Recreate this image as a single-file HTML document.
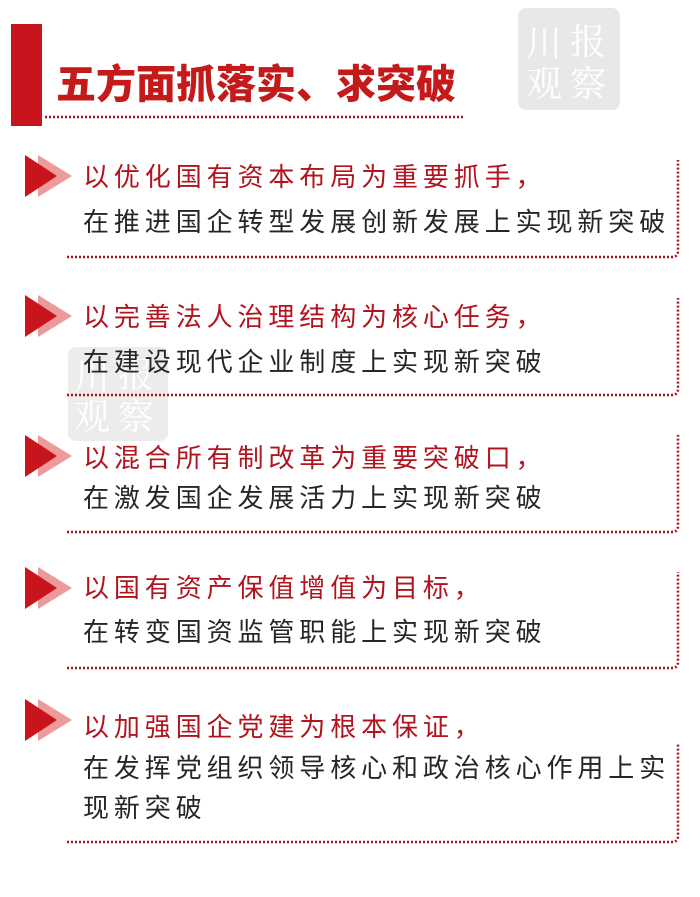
<!DOCTYPE html>
<html><head><meta charset="utf-8"><style>
html,body{margin:0;padding:0;background:#fff;}
body{width:700px;height:897px;position:relative;overflow:hidden;font-family:"Liberation Sans","Noto Sans CJK SC",sans-serif;}
.t{position:absolute;white-space:nowrap;font-size:26px;letter-spacing:4.9px;line-height:30px;}
.r{color:#b0141e;}
.k{color:#262626;}
.wm{position:absolute;background:#e8e8e8;border-radius:8px;}
.wm span{position:absolute;color:#fff;font-family:"Noto Serif CJK SC",serif;font-size:36px;line-height:36px;}
</style></head><body>
<div class="wm" style="left:518px;top:8px;width:102px;height:102px;">
<span style="left:8px;top:16px;">川</span><span style="left:52px;top:14px;">报</span>
<span style="left:8px;top:56px;">观</span><span style="left:52px;top:56px;">察</span></div>
<div class="wm" style="left:68px;top:347px;width:100px;height:94px;opacity:.8">
<span style="left:6px;top:10px;">川</span><span style="left:50px;top:8px;">报</span>
<span style="left:6px;top:50px;">观</span><span style="left:50px;top:50px;">察</span></div>

<div style="position:absolute;left:11px;top:24px;width:31px;height:102px;background:#c8141c"></div>
<div style="position:absolute;left:56px;top:59px;font-size:40px;line-height:44px;font-weight:900;color:#c41a1a;letter-spacing:0px;font-family:'Noto Sans CJK SC',sans-serif;white-space:nowrap">五方面抓落实、求突破</div>

<svg width="700" height="897" style="position:absolute;left:0;top:0" xmlns="http://www.w3.org/2000/svg">
<g stroke="#a8121e" stroke-width="2.5" stroke-dasharray="2 2" fill="none">
<line x1="45" y1="117" x2="463" y2="117"/>
<path d="M67 257 H672 Q678 257 678 251 V160"/>
<path d="M67 395 H672 Q678 395 678 389 V298"/>
<path d="M67 532 H672 Q678 532 678 526 V435"/>
<path d="M67 668 H672 Q678 668 678 662 V572"/>
<path d="M67 842 H672 Q678 842 678 836 V743"/>
</g>
<g>
<g transform="translate(0,155)"><polygon points="38,0 72,21 38,42" fill="#ec9a9a"/><polygon points="25,0 57,21 25,42" fill="#c8141c"/></g>
<g transform="translate(0,295)"><polygon points="38,0 72,21 38,42" fill="#ec9a9a"/><polygon points="25,0 57,21 25,42" fill="#c8141c"/></g>
<g transform="translate(0,435)"><polygon points="38,0 72,21 38,42" fill="#ec9a9a"/><polygon points="25,0 57,21 25,42" fill="#c8141c"/></g>
<g transform="translate(0,567)"><polygon points="38,0 72,21 38,42" fill="#ec9a9a"/><polygon points="25,0 57,21 25,42" fill="#c8141c"/></g>
<g transform="translate(0,699)"><polygon points="38,0 72,21 38,42" fill="#ec9a9a"/><polygon points="25,0 57,21 25,42" fill="#c8141c"/></g>
</g>
</svg>

<div class="t r" style="left:83px;top:162px">以优化国有资本布局为重要抓手，</div>
<div class="t k" style="left:83px;top:207px">在推进国企转型发展创新发展上实现新突破</div>
<div class="t r" style="left:83px;top:302px">以完善法人治理结构为核心任务，</div>
<div class="t k" style="left:83px;top:347px">在建设现代企业制度上实现新突破</div>
<div class="t r" style="left:83px;top:443px">以混合所有制改革为重要突破口，</div>
<div class="t k" style="left:83px;top:483px">在激发国企发展活力上实现新突破</div>
<div class="t r" style="left:83px;top:573px">以国有资产保值增值为目标，</div>
<div class="t k" style="left:83px;top:617px">在转变国资监管职能上实现新突破</div>
<div class="t r" style="left:83px;top:712px">以加强国企党建为根本保证，</div>
<div class="t k" style="left:83px;top:753px">在发挥党组织领导核心和政治核心作用上实</div>
<div class="t k" style="left:83px;top:793px">现新突破</div>
</body></html>
